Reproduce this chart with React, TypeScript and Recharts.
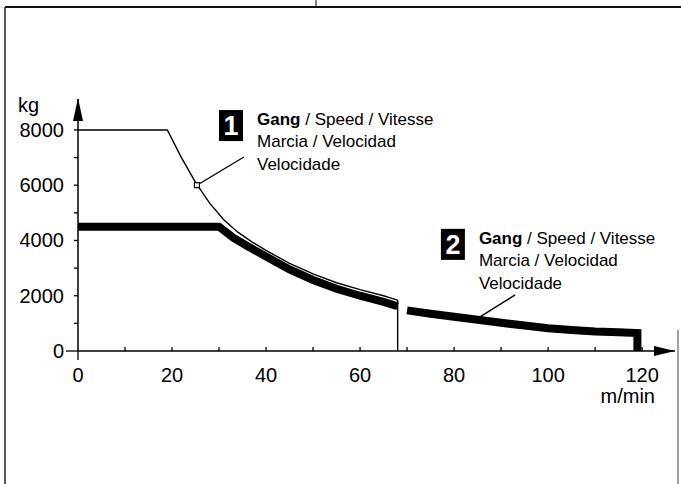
import { LineChart, Line, XAxis, YAxis, ReferenceLine, ReferenceDot } from "recharts";

// Gang 1 (thin line), m/min -> kg
const gear1Speed = [0, 19, 22, 25, 28, 31, 34, 37, 40, 45, 50, 55, 60, 65, 68, 68];
const gear1Load = [8000, 8000, 7000, 6100, 5350, 4750, 4300, 3950, 3640, 3170, 2790, 2470, 2220, 2000, 1840, 0];

// Gang 2 (thick line), gap between 68 and 70
const gear2Speed = [0, 30, 33, 36, 40, 45, 50, 55, 60, 65, 68, 69, 70, 75, 80, 85, 90, 95, 100, 105, 110, 115, 119, 119];
const gear2Load = [4500, 4500, 4100, 3800, 3420, 2950, 2570, 2250, 2000, 1780, 1620, null, 1470, 1350, 1240, 1130, 1020, 920, 820, 760, 710, 680, 650, 0];

const xTicks = [0, 10, 20, 30, 40, 50, 60, 70, 80, 90, 100, 110, 120];
const yTicks = [0, 1000, 2000, 3000, 4000, 5000, 6000, 7000, 8000];

const labelLines = ["Marcia / Velocidad", "Velocidade"];

const gear1Data = gear1Speed.map((s, i) => ({ speed: s, load: gear1Load[i] }));
const gear2Data = gear2Speed.map((s, i) => ({ speed: s, load: gear2Load[i] }));

const FONT = '"Liberation Sans", Arial, Helvetica, sans-serif';

const XTick = (props: any) => {
  const { x, y, payload } = props;
  const v = payload.value;
  return (
    <g>
      <line x1={x} y1={y} x2={x} y2={v === 0 ? y + 9 : y - 4} stroke="#000" strokeWidth={1.3} />
      {v % 20 === 0 && (
        <text x={x} y={y + 31} textAnchor="middle" fontSize={20} fontFamily={FONT} fill="#000">
          {v}
        </text>
      )}
    </g>
  );
};

const YTick = (props: any) => {
  const { x, y, payload } = props;
  const v = payload.value;
  return (
    <g>
      <line x1={v === 0 ? x - 12 : x - 4} y1={y} x2={x} y2={y} stroke="#000" strokeWidth={1.3} />
      {v % 2000 === 0 && (
        <text x={x - 14} y={y + 7} textAnchor="end" fontSize={20} fontFamily={FONT} fill="#000">
          {v}
        </text>
      )}
    </g>
  );
};

const GearLabel = (num: string) => (props: any) => {
  const { cx, cy } = props;
  return (
    <g fontFamily={FONT}>
      <rect x={cx} y={cy} width={24} height={31} fill="#000" />
      <text x={cx + 12} y={cy + 25} textAnchor="middle" fill="#fff" fontSize={27} fontWeight="bold">
        {num}
      </text>
      <text x={cx + 38} y={cy + 15} fontSize={17} fill="#000">
        <tspan fontWeight="bold">Gang</tspan> / Speed / Vitesse
      </text>
      {labelLines.map((t, i) => (
        <text key={t} x={cx + 38} y={cy + 37 + i * 23} fontSize={17} fill="#000">
          {t}
        </text>
      ))}
    </g>
  );
};

const UpArrow = (props: any) => {
  const { cx, cy } = props;
  return <path d={`M${cx},${cy - 1} L${cx - 5},${cy + 22} L${cx + 5},${cy + 22} Z`} fill="#000" />;
};

const RightArrow = (props: any) => {
  const { cx, cy } = props;
  return <path d={`M${cx},${cy} L${cx - 21},${cy - 5} L${cx - 21},${cy + 5} Z`} fill="#000" />;
};

const Marker = (props: any) => {
  const { cx, cy } = props;
  return <rect x={cx - 2.5} y={cy - 2.5} width={5} height={5} fill="#fff" stroke="#000" strokeWidth={1.2} />;
};

export default function App() {
  return (
    <div style={{ position: "absolute", left: 0, top: 0, width: 681, height: 484, background: "#fff" }}>
      <LineChart width={681} height={484} margin={{ top: 99, right: 6, bottom: 93, left: 0 }}>
        <XAxis
          type="number"
          dataKey="speed"
          domain={[0, 127]}
          ticks={xTicks}
          interval={0}
          allowDataOverflow
          height={40}
          tickSize={0}
          tickMargin={0}
          tickLine={false}
          tick={<XTick />}
          axisLine={{ stroke: "#000", strokeWidth: 1.5 }}
          label={{
            content: (p: any) => (
              <text
                x={p.viewBox.x + p.viewBox.width - 20}
                y={p.viewBox.y + 52}
                textAnchor="end"
                fontSize={20}
                fontFamily={FONT}
                fill="#000"
              >
                m/min
              </text>
            ),
          }}
        />
        <YAxis
          type="number"
          dataKey="load"
          domain={[0, 9120]}
          ticks={yTicks}
          interval={0}
          allowDataOverflow
          width={78}
          tickSize={0}
          tickMargin={0}
          tickLine={false}
          tick={<YTick />}
          axisLine={{ stroke: "#000", strokeWidth: 1.5 }}
          label={{
            content: (p: any) => (
              <text x={18} y={p.viewBox.y + 13} fontSize={20} fontFamily={FONT} fill="#000">
                kg
              </text>
            ),
          }}
        />
        <Line
          data={gear2Data}
          dataKey="load"
          type="linear"
          stroke="#000"
          strokeWidth={8}
          strokeLinejoin="miter"
          dot={false}
          connectNulls={false}
          isAnimationActive={false}
        />
        <Line
          data={gear1Data}
          dataKey="load"
          type="linear"
          stroke="#000"
          strokeWidth={1.4}
          dot={false}
          isAnimationActive={false}
        />
        <ReferenceLine
          segment={[{ x: 25.3, y: 6000 }, { x: 35.3, y: 7020 }]}
          stroke="#000"
          strokeWidth={1.3}
        />
        <ReferenceLine
          segment={[{ x: 85, y: 1180 }, { x: 93, y: 2030 }]}
          stroke="#000"
          strokeWidth={1.3}
        />
        <ReferenceDot x={25.3} y={6000} ifOverflow="visible" shape={<Marker />} />
        <ReferenceDot x={30} y={8720} ifOverflow="visible" shape={GearLabel("1")} />
        <ReferenceDot x={77.2} y={4420} ifOverflow="visible" shape={GearLabel("2")} />
        <ReferenceDot x={0} y={9120} ifOverflow="visible" shape={<UpArrow />} />
        <ReferenceDot x={127} y={0} ifOverflow="visible" shape={<RightArrow />} />
      </LineChart>
      <svg
        width={681}
        height={484}
        style={{ position: "absolute", left: 0, top: 0, pointerEvents: "none" }}
      >
        <line x1={5} y1={7} x2={681} y2={7} stroke="#111" strokeWidth={2} />
        <line x1={316} y1={0} x2={316} y2={7} stroke="#111" strokeWidth={1} />
        <line x1={5} y1={7} x2={5} y2={484} stroke="#222" strokeWidth={1.5} />
        <line x1={678} y1={330} x2={678} y2={484} stroke="#444" strokeWidth={1} />
      </svg>
    </div>
  );
}
